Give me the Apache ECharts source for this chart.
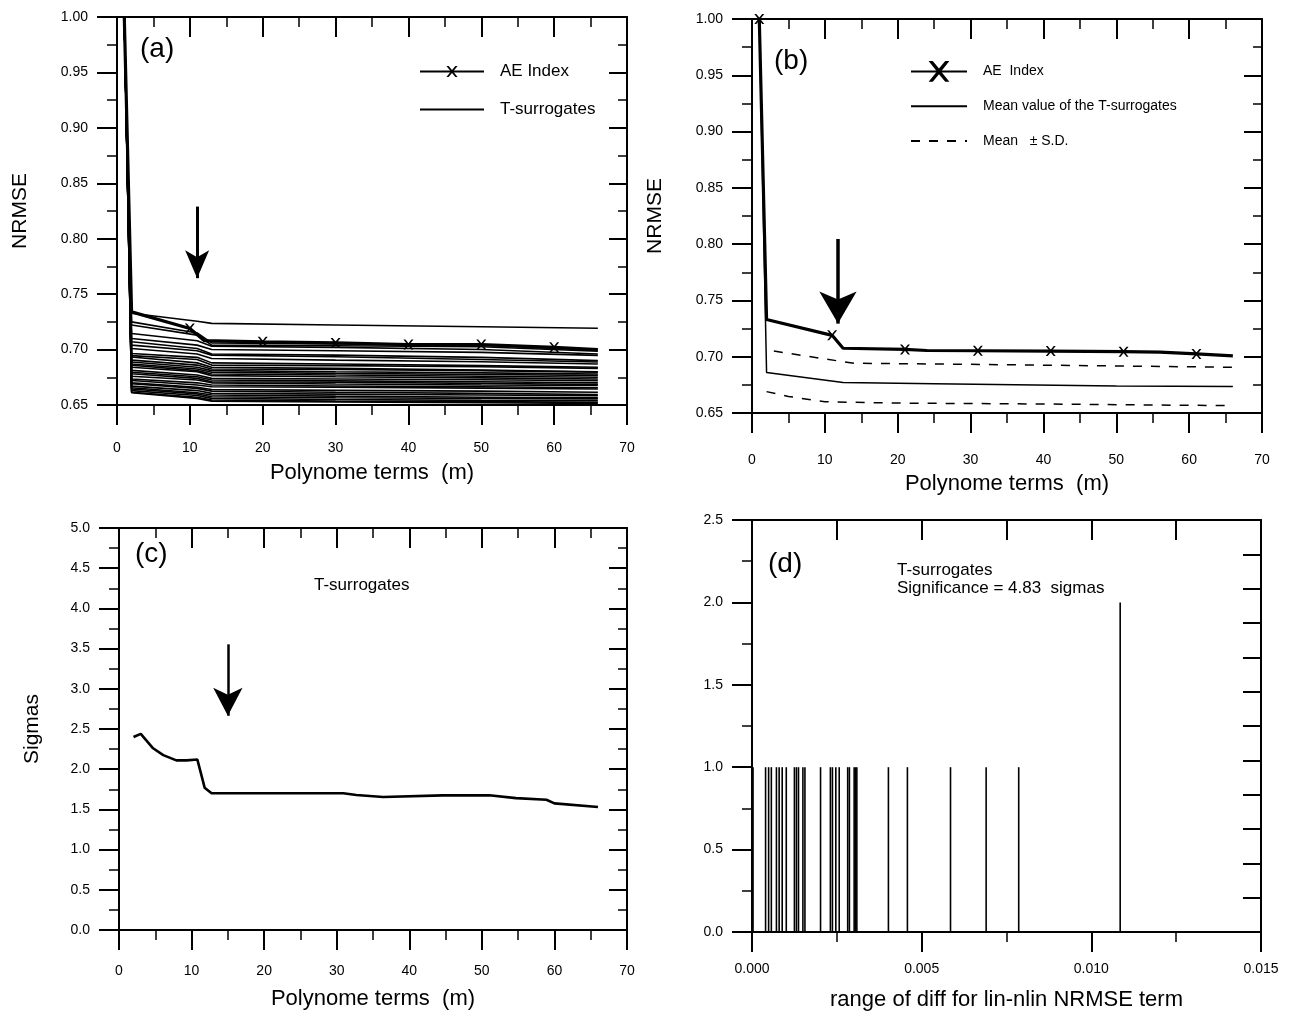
<!DOCTYPE html>
<html>
<head>
<meta charset="utf-8">
<script src="https://cdn.jsdelivr.net/npm/echarts@6/dist/echarts.min.js"></script>
<style>html,body{margin:0;padding:0;background:#fff}#c{width:1294px;height:1019px}</style>
</head>
<body>
<div id="c"></div>
<script>
// ---------------- DATA ----------------
// Panel (a): AE index NRMSE vs polynome terms
const AE_A_X = [1, 2, 10, 12, 20, 30, 40, 50, 60, 66];
const AE_A_Y = [1.000, 0.734, 0.719, 0.708, 0.707, 0.706, 0.7045, 0.7045, 0.702, 0.700];
const AE_A_MARKS = [10, 20, 30, 40, 50, 60];
// Panel (a): T-surrogates (each row = NRMSE at SURR_X)
const SURR_X = [1, 2, 11, 13, 30, 50, 66];
const SURR_A = [
  [1.0, 0.7327, 0.7255, 0.7236, 0.7222, 0.7206, 0.7192],
  [1.0, 0.7250, 0.7150, 0.7060, 0.7050, 0.7040, 0.6995],
  [1.0, 0.7221, 0.7130, 0.7040, 0.7035, 0.7025, 0.6985],
  [1.0, 0.7145, 0.7080, 0.7030, 0.7020, 0.7000, 0.6960],
  [1.0, 0.7100, 0.7040, 0.7000, 0.6990, 0.6975, 0.6948],
  [1.0, 0.7070, 0.7010, 0.6960, 0.6950, 0.6930, 0.6900],
  [1.0, 0.7040, 0.6990, 0.6950, 0.6935, 0.6910, 0.6888],
  [1.0, 0.7010, 0.6960, 0.6920, 0.6905, 0.6890, 0.6870],
  [1.0, 0.6964, 0.6930, 0.6880, 0.6870, 0.6855, 0.6840],
  [1.0, 0.6945, 0.6910, 0.6860, 0.6855, 0.6845, 0.6830],
  [1.0, 0.6933, 0.6880, 0.6840, 0.6830, 0.6815, 0.6800],
  [1.0, 0.6905, 0.6860, 0.6825, 0.6820, 0.6810, 0.6797],
  [1.0, 0.6888, 0.6840, 0.6810, 0.6800, 0.6790, 0.6780],
  [1.0, 0.6870, 0.6825, 0.6795, 0.6785, 0.6775, 0.6767],
  [1.0, 0.6858, 0.6810, 0.6780, 0.6770, 0.6760, 0.6750],
  [1.0, 0.6840, 0.6800, 0.6765, 0.6755, 0.6745, 0.6735],
  [1.0, 0.6812, 0.6770, 0.6740, 0.6735, 0.6728, 0.6720],
  [1.0, 0.6795, 0.6755, 0.6725, 0.6718, 0.6710, 0.6700],
  [1.0, 0.6782, 0.6740, 0.6710, 0.6705, 0.6695, 0.6685],
  [1.0, 0.6760, 0.6725, 0.6700, 0.6690, 0.6680, 0.6676],
  [1.0, 0.6735, 0.6700, 0.6680, 0.6672, 0.6664, 0.6655],
  [1.0, 0.6721, 0.6680, 0.6665, 0.6660, 0.6652, 0.6645],
  [1.0, 0.6700, 0.6660, 0.6640, 0.6632, 0.6625, 0.6615],
  [1.0, 0.6691, 0.6650, 0.6625, 0.6615, 0.6605, 0.6595],
  [1.0, 0.6670, 0.6630, 0.6605, 0.6598, 0.6590, 0.6585],
  [1.0, 0.6655, 0.6610, 0.6590, 0.6580, 0.6570, 0.6565],
  [1.0, 0.6645, 0.6600, 0.6575, 0.6565, 0.6558, 0.6555],
  [1.0, 0.6630, 0.6585, 0.6560, 0.6550, 0.6542, 0.6538],
  [1.0, 0.6615, 0.6570, 0.6545, 0.6535, 0.6530, 0.6524],
  [1.0, 0.6612, 0.6560, 0.6535, 0.6528, 0.6520, 0.6515]
];
// Panel (b)
const AE_B_X = [1, 2, 11, 12.5, 21, 24, 31, 41, 51, 56, 61, 66];
const AE_B_Y = [1.000, 0.733, 0.719, 0.7075, 0.7065, 0.7055, 0.7053, 0.705, 0.7045, 0.704, 0.7025, 0.7008];
const AE_B_MARKS = [1, 11, 21, 31, 41, 51, 61];
const MEAN_B_X = [1, 2, 12.5, 25, 50, 66];
const MEAN_B_Y = [1.000, 0.686, 0.677, 0.676, 0.674, 0.6735];
const UPPER_B_X = [3, 10, 14, 30, 50, 66];
const UPPER_B_Y = [0.705, 0.698, 0.6942, 0.6932, 0.6918, 0.6906];
const LOWER_B_X = [2, 5, 10, 20, 40, 66];
const LOWER_B_Y = [0.669, 0.6647, 0.660, 0.6588, 0.658, 0.6565];
// Panel (c): significance in sigmas
const SIG_X = [2, 3, 4.7, 6.1, 7.9, 9.3, 10.8, 11.8, 12.75, 19.4, 22.6, 30.9, 32.7, 36.4, 44.6, 51, 54.7, 58.9, 60, 66];
const SIG_Y = [2.40, 2.44, 2.26, 2.175, 2.11, 2.11, 2.12, 1.77, 1.70, 1.70, 1.70, 1.70, 1.68, 1.655, 1.675, 1.675, 1.64, 1.62, 1.575, 1.53];
// Panel (d): histogram of differences
const HIST_X = [0.00003, 0.00040, 0.00049, 0.00057, 0.00072, 0.00080, 0.00089, 0.00101, 0.00125, 0.00131, 0.00137, 0.00150, 0.00156,
  0.00202, 0.00231, 0.00237, 0.00247, 0.00257, 0.00282, 0.00287, 0.00301, 0.00305, 0.00309, 0.00402, 0.00458, 0.00585, 0.00690, 0.00786, 0.01085];
const HIST_Y = [1, 1, 1, 1, 1, 1, 1, 1, 1, 1, 1, 1, 1, 1, 1, 1, 1, 1, 1, 1, 1, 1, 1, 1, 1, 1, 1, 1, 2];
// Arrows [x, from y, tip y]
const ARROW_A = [11, 0.829, 0.7644];
const ARROW_B = [11.8, 0.8046, 0.7294];
const ARROW_C = [15, 3.553, 2.664];

// ---------------- STYLE / LAYOUT ----------------
const FONT = "'Liberation Sans Narrow','Liberation Sans',Arial,sans-serif";
const XPATH = 'path://M0,0 L2,0 L5,3.6 L8,0 L10,0 L6,5 L10,10 L8,10 L5,6.4 L2,10 L0,10 L4,5 Z';
const GRIDS = [
  {left: 117, top: 17, width: 510, height: 388},
  {left: 752, top: 19, width: 510, height: 394},
  {left: 119, top: 528, width: 508, height: 402},
  {left: 752, top: 520, width: 509, height: 412}
];
const BLACK = '#000';

function bottomX(g, min, max, interval, fmt, name, margin, nameGap) {
  return {
    gridIndex: g, type: 'value', position: 'bottom', min, max, interval,
    axisLine: {show: true, onZero: false, lineStyle: {color: BLACK, width: 2}},
    axisTick: {show: true, inside: false, length: 20, lineStyle: {color: BLACK, width: 2}},
    minorTick: {show: true, splitNumber: 2, length: 10, lineStyle: {color: BLACK, width: 1.5}},
    splitLine: {show: false}, minorSplitLine: {show: false},
    axisLabel: {show: true, margin, color: BLACK, fontFamily: FONT, fontSize: 14, formatter: fmt, showMinLabel: true, showMaxLabel: true},
    name, nameLocation: 'middle', nameGap, nameTextStyle: {color: BLACK, fontFamily: FONT, fontSize: 22}
  };
}
function topX(g, min, max, interval, minor) {
  return {
    gridIndex: g, type: 'value', position: 'top', min, max, interval,
    axisLine: {show: true, onZero: false, lineStyle: {color: BLACK, width: 2}},
    axisTick: {show: true, inside: true, length: 20, lineStyle: {color: BLACK, width: 2}},
    minorTick: {show: minor, splitNumber: 2, length: 10, lineStyle: {color: BLACK, width: 1.5}},
    splitLine: {show: false}, minorSplitLine: {show: false},
    axisLabel: {show: false}
  };
}
function leftY(g, min, max, interval, fmt, name, nameGap) {
  return {
    gridIndex: g, type: 'value', position: 'left', min, max, interval,
    axisLine: {show: true, onZero: false, lineStyle: {color: BLACK, width: 2}},
    axisTick: {show: true, inside: false, length: 20, lineStyle: {color: BLACK, width: 2}},
    minorTick: {show: true, splitNumber: 2, length: 10, lineStyle: {color: BLACK, width: 1.5}},
    splitLine: {show: false}, minorSplitLine: {show: false},
    axisLabel: {show: true, margin: 29, color: BLACK, fontFamily: FONT, fontSize: 14, formatter: fmt, showMinLabel: true, showMaxLabel: true},
    name, nameLocation: 'middle', nameGap, nameRotate: 90,
    nameTextStyle: {color: BLACK, fontFamily: FONT, fontSize: 21}
  };
}
function rightY(g, min, max, interval, minor) {
  return {
    gridIndex: g, type: 'value', position: 'right', min, max, interval,
    axisLine: {show: true, onZero: false, lineStyle: {color: BLACK, width: 2}},
    axisTick: {show: true, inside: true, length: 18, lineStyle: {color: BLACK, width: 2}},
    minorTick: {show: minor, splitNumber: 2, length: 9, lineStyle: {color: BLACK, width: 1.5}},
    splitLine: {show: false}, minorSplitLine: {show: false},
    axisLabel: {show: false}
  };
}
const f2 = v => v.toFixed(2), f1 = v => v.toFixed(1), f0 = v => String(Math.round(v)), f3 = v => v.toFixed(3);
const XNAME = 'Polynome terms  (m)';

const xAxis = [
  bottomX(0, 0, 70, 10, f0, XNAME, 36, 57), topX(0, 0, 70, 10, true),
  bottomX(1, 0, 70, 10, f0, XNAME, 40, 60), topX(1, 0, 70, 10, true),
  bottomX(2, 0, 70, 10, f0, XNAME, 34, 58), topX(2, 0, 70, 10, true),
  bottomX(3, 0, 0.015, 0.005, f3, 'range of diff for lin-nlin NRMSE term', 30, 57), topX(3, 0, 0.015, 0.0025, false)
];
const yAxis = [
  leftY(0, 0.65, 1.0, 0.05, f2, 'NRMSE', 86), rightY(0, 0.65, 1.0, 0.05, true),
  leftY(1, 0.65, 1.0, 0.05, f2, 'NRMSE', 86), rightY(1, 0.65, 1.0, 0.05, true),
  leftY(2, 0, 5, 0.5, f1, 'Sigmas', 76), rightY(2, 0, 5, 0.5, true),
  leftY(3, 0, 2.5, 0.5, f1, '', 40), rightY(3, 0, 2.5, 2.5 / 12, false)
];

function arrowLine(a, w, size) {
  return {
    silent: true, animation: false, symbol: ['none', 'arrow'], symbolSize: size,
    label: {show: false}, emphasis: {disabled: true},
    lineStyle: {color: BLACK, width: w, type: 'solid'},
    data: [[{coord: [a[0], a[1]]}, {coord: [a[0], a[2]]}]]
  };
}
function markedData(xs, ys, marks) {
  return xs.map((x, i) => ({value: [x, ys[i]], symbol: marks.indexOf(x) >= 0 ? XPATH : 'none'}));
}
function pairs(xs, ys) { return xs.map((x, i) => [x, ys[i]]); }

const series = [];
SURR_A.forEach(row => {
  series.push({
    type: 'line', name: 'T-surrogates', xAxisIndex: 0, yAxisIndex: 0, symbol: 'none', color: BLACK,
    data: pairs(SURR_X, row), lineStyle: {color: BLACK, width: 1.6}, z: 2, silent: true
  });
});
series.push({
  type: 'line', name: 'AE Index', xAxisIndex: 0, yAxisIndex: 0, symbol: XPATH, symbolSize: 10, showSymbol: true, color: BLACK,
  data: markedData(AE_A_X, AE_A_Y, AE_A_MARKS), lineStyle: {color: BLACK, width: 3.2}, itemStyle: {color: BLACK}, z: 5,
  markLine: arrowLine(ARROW_A, 3, [18, 28])
});
series.push({
  type: 'line', name: 'Mean value of the T-surrogates', xAxisIndex: 2, yAxisIndex: 2, symbol: 'none', color: BLACK,
  data: pairs(MEAN_B_X, MEAN_B_Y), lineStyle: {color: BLACK, width: 1.5}, z: 3
});
series.push({
  type: 'line', name: 'Mean   \u00b1 S.D.', xAxisIndex: 2, yAxisIndex: 2, symbol: 'none', color: BLACK,
  data: pairs(UPPER_B_X, UPPER_B_Y), lineStyle: {color: BLACK, width: 1.5, type: [9, 9]}, z: 3
});
series.push({
  type: 'line', name: 'Mean   \u00b1 S.D.', xAxisIndex: 2, yAxisIndex: 2, symbol: 'none', color: BLACK,
  data: pairs(LOWER_B_X, LOWER_B_Y), lineStyle: {color: BLACK, width: 1.5, type: [9, 9]}, z: 3
});
series.push({
  type: 'line', name: 'AE  Index', xAxisIndex: 2, yAxisIndex: 2, symbol: XPATH, symbolSize: 10, showSymbol: true, color: BLACK,
  data: markedData(AE_B_X, AE_B_Y, AE_B_MARKS), lineStyle: {color: BLACK, width: 3.2}, itemStyle: {color: BLACK}, z: 5,
  markLine: arrowLine(ARROW_B, 3.5, [28, 32])
});
series.push({
  type: 'line', name: 'Sigmas', xAxisIndex: 4, yAxisIndex: 4, symbol: 'none', color: BLACK,
  data: pairs(SIG_X, SIG_Y), lineStyle: {color: BLACK, width: 2.6}, z: 5,
  markLine: arrowLine(ARROW_C, 2.5, [22, 28])
});
series.push({
  type: 'bar', name: 'hist', xAxisIndex: 6, yAxisIndex: 6, barWidth: 1.6,
  data: pairs(HIST_X, HIST_Y), itemStyle: {color: BLACK}, z: 3
});

const txt = (left, top, text, size) => ({type: 'text', left, top, silent: true,
  style: {text, fill: BLACK, font: size + 'px ' + FONT}});
const hiddenSym = {opacity: 0};

const option = {
  animation: false,
  backgroundColor: '#fff',
  grid: GRIDS,
  xAxis, yAxis, series,
  legend: [
    {data: ['AE Index', {name: 'T-surrogates', itemStyle: hiddenSym}], orient: 'vertical', left: 414, top: 58,
     itemWidth: 64, itemHeight: 14, itemGap: 21, selectedMode: false,
     textStyle: {color: BLACK, fontFamily: FONT, fontSize: 17, padding: [0, 0, 0, 11]}},
    {data: ['AE  Index', {name: 'Mean value of the T-surrogates', itemStyle: hiddenSym}, {name: 'Mean   \u00b1 S.D.', itemStyle: hiddenSym}],
     orient: 'vertical', left: 905, top: 56,
     itemWidth: 56, itemHeight: 26, itemGap: 14, selectedMode: false,
     textStyle: {color: BLACK, fontFamily: FONT, fontSize: 14, padding: [0, 0, 0, 11]}}
  ],
  graphic: [
    txt(140, 35, '(a)', 28),
    txt(774, 47, '(b)', 28),
    txt(135, 540, '(c)', 28),
    txt(768, 550, '(d)', 28),
    txt(314, 577, 'T-surrogates', 17),
    txt(897, 562, 'T-surrogates', 17),
    txt(897, 580, 'Significance = 4.83  sigmas', 17)
  ]
};
const chart = echarts.init(document.getElementById('c'), null, {renderer: 'canvas'});
chart.setOption(option);
</script>
</body>
</html>
